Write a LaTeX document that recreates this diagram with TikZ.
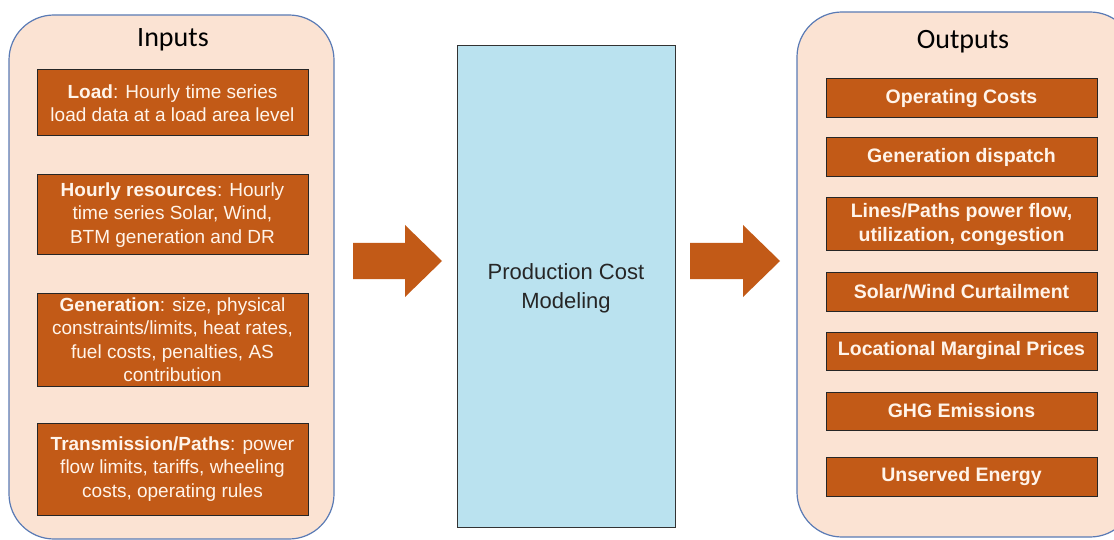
\documentclass[tikz,border=0pt]{standalone}
\usepackage{fontspec}
\setmainfont{Liberation Sans}
\newfontfamily\titlefont{Carlito}
\begin{document}
\begin{tikzpicture}[x=1pt,y=-1pt,
  container/.style={draw=edgeblue, line width=1.2pt, fill=peach, rounded corners=45pt},
  inbox/.style={draw=black!85, line width=1pt, fill=rust, text=textw, align=center,
     minimum width=271pt, inner sep=2pt, font=\fontsize{19}{23.5}\selectfont},
  outbox/.style={draw=black!85, line width=1pt, fill=rust, text=textw, align=center,
     minimum width=271pt, inner sep=2pt, font=\fontsize{19.5}{23.5}\selectfont\bfseries},
  title/.style={font=\titlefont\fontsize{28}{32}\selectfont, text=black},
  blockarrow/.style={fill=rust, draw=none}
]
\definecolor{peach}{HTML}{FBE3D3}
\definecolor{rust}{HTML}{C25A17}
\definecolor{textw}{HTML}{FFF4EA}
\definecolor{midblue}{HTML}{BAE2EF}
\definecolor{edgeblue}{HTML}{5A7BB5}
\useasboundingbox (0,0) rectangle (1114,540);
\begin{scope}
\clip (0,0) rectangle (1114,540);
\draw[container] (9,15) rectangle (334,539);
\draw[container] (797,12) rectangle (1135,537);
\end{scope}
\node[title] (tin) at (173,40) {Inputs};
\node[title] (tout) at (963,42) {Outputs};
% inputs
\node[inbox, minimum height=66pt] (load) at (172.5,103) {\textbf{Load}: Hourly time series\\load data at a load area level};
\node[inbox, minimum height=80pt] (hr) at (172.5,215) {\textbf{Hourly resources}: Hourly\\time series Solar, Wind,\\BTM generation and DR};
\node[inbox, minimum height=93pt] (gen) at (172.5,339.5) {\textbf{Generation}: size, physical\\constraints/limits, heat rates,\\fuel costs, penalties, AS\\contribution};
\node[inbox, minimum height=92pt] (tr) at (172.5,469) {\textbf{Transmission/Paths}: power\\flow limits, tariffs, wheeling\\costs, operating rules};
% middle
\node[draw=black!80, line width=1pt, fill=midblue, minimum width=218pt, minimum height=481pt, inner sep=0pt] (pcm) at (566,286.5) {};
\node[align=center, font=\fontsize{22}{29}\selectfont, text=black!85] (pcmt) at (566,288) {Production Cost\\Modeling};
% outputs
\node[outbox, minimum height=39pt] (o1) at (961.5,98.5) {Operating Costs};
\node[outbox, minimum height=39pt] (o2) at (961.5,157.5) {Generation dispatch};
\node[outbox, minimum height=53pt] (o3) at (961.5,224.5) {Lines/Paths power flow,\\utilization, congestion};
\node[outbox, minimum height=39pt] (o4) at (961.5,291.5) {Solar/Wind Curtailment};
\node[outbox, minimum height=38pt] (o5) at (961.5,351) {Locational Marginal Prices};
\node[outbox, minimum height=38pt] (o6) at (961.5,411) {GHG Emissions};
\node[outbox, minimum height=39pt] (o7) at (961.5,476.5) {Unserved Energy};
% block arrows
\fill[blockarrow] (353,243) -- (405,243) -- (405,225) -- (442,261) -- (405,297) -- (405,279) -- (353,279) -- cycle;
\fill[blockarrow] (690,243) -- (743,243) -- (743,225) -- (780,261) -- (743,297) -- (743,279) -- (690,279) -- cycle;
\end{tikzpicture}
\end{document}
